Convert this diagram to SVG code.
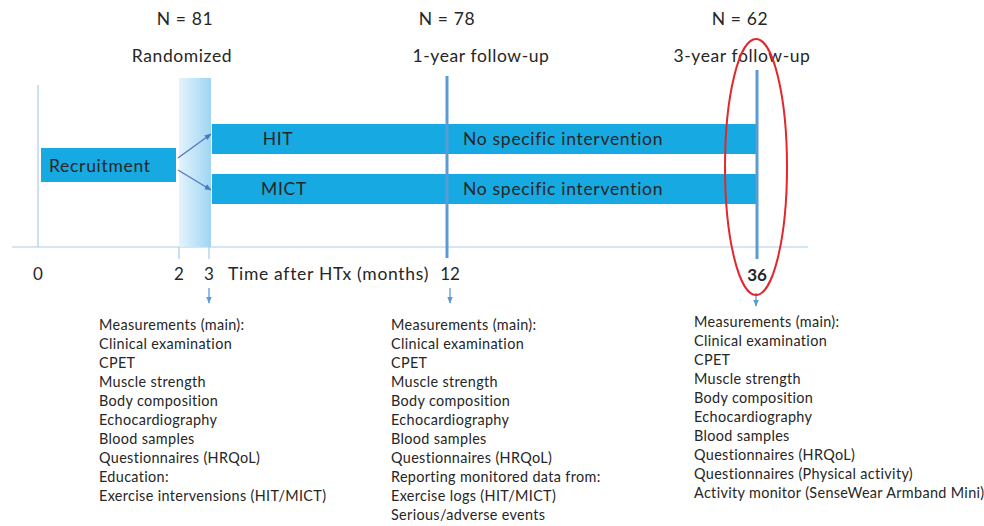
<svg xmlns="http://www.w3.org/2000/svg" width="984" height="526" viewBox="0 0 984 526">
<style>
.t{font-family:Lato,"Liberation Sans",sans-serif;fill:#262626}
.top{font-size:17.5px;letter-spacing:0.6px;text-anchor:middle}
.box{font-size:17.5px;letter-spacing:0.7px}
.tick{font-size:17px;text-anchor:middle}
.lst{font-size:14.4px;letter-spacing:0.35px}
.bar{fill:#17a9e1}
.vl{stroke:#5b9bd5;stroke-width:3}
.ax{stroke:#a9cbe8;stroke-width:1.2}
.conn{stroke:#4a78c0;stroke-width:1.2;fill:none}
.dn{stroke:#5b9bd5;stroke-width:1.3;fill:none}
</style>
<defs>
<linearGradient id="band" x1="0" y1="0" x2="1" y2="0">
<stop offset="0" stop-color="#e4f3fc"/>
<stop offset="1" stop-color="#9fd5f3"/>
</linearGradient>
<marker id="ah" viewBox="0 0 10 10" refX="9" refY="5" markerWidth="7" markerHeight="7" orient="auto" markerUnits="userSpaceOnUse">
<path d="M0,1 L10,5 L0,9 Z" fill="#4a78c0"/>
</marker>
<marker id="ad" viewBox="0 0 10 10" refX="9" refY="5" markerWidth="7" markerHeight="7" orient="auto" markerUnits="userSpaceOnUse">
<path d="M0,1 L10,5 L0,9 Z" fill="#5b9bd5"/>
</marker>
</defs>
<rect width="984" height="526" fill="#ffffff"/>

<g id="axes">
<line class="ax" x1="38" y1="85" x2="38" y2="247"/>
<line class="ax" x1="12" y1="247" x2="808" y2="247"/>
<line class="ax" x1="179" y1="247" x2="179" y2="259"/>
<line class="ax" x1="209" y1="247" x2="209" y2="259"/>
</g>

<g id="randomized-band">
<rect x="179" y="78" width="32" height="169" fill="url(#band)"/>
</g>

<g id="recruitment">
<rect class="bar" x="41" y="148" width="135" height="34"/>
<text class="t box" x="49" y="172">Recruitment</text>
</g>

<g id="hit">
<rect class="bar" x="212" y="124" width="545" height="30"/>
<text class="t box" x="278" y="145" text-anchor="middle">HIT</text>
<text class="t box" x="463" y="145">No specific intervention</text>
</g>

<g id="mict">
<rect class="bar" x="212" y="174" width="545" height="30"/>
<text class="t box" x="284" y="195" text-anchor="middle">MICT</text>
<text class="t box" x="463" y="195">No specific intervention</text>
</g>

<g id="timepoints">
<line class="vl" x1="447" y1="76" x2="447" y2="258"/>
<line class="vl" x1="757" y1="70" x2="757" y2="259"/>
</g>

<g id="connectors">
<line class="conn" x1="178" y1="158" x2="211" y2="134" marker-end="url(#ah)"/>
<line class="conn" x1="178" y1="170" x2="211" y2="190" marker-end="url(#ah)"/>
<line class="dn" x1="209" y1="288" x2="209" y2="303" marker-end="url(#ad)"/>
<line class="dn" x1="450" y1="288" x2="450" y2="303" marker-end="url(#ad)"/>
<line class="dn" x1="756" y1="293" x2="756" y2="306" marker-end="url(#ad)"/>
</g>

<g id="labels-top">
<text class="t top" x="185" y="25">N = 81</text>
<text class="t top" x="182" y="62">Randomized</text>
<text class="t top" x="447" y="25">N = 78</text>
<text class="t top" x="481" y="62">1-year follow-up</text>
<text class="t top" x="740" y="25">N = 62</text>
<text class="t top" x="742" y="62">3-year follow-up</text>
</g>

<g id="labels-axis">
<text class="t tick" x="38" y="280">0</text>
<text class="t tick" x="179" y="280">2</text>
<text class="t tick" x="209" y="280">3</text>
<text class="t box" x="228" y="280">Time after HTx (months)</text>
<text class="t tick" x="450" y="280">12</text>
<text class="t tick" x="757" y="281" font-weight="bold">36</text>
</g>

<g id="highlight">
<ellipse cx="756" cy="167" rx="31" ry="128" fill="none" stroke="#e0282e" stroke-width="2"/>
</g>

<g id="list-3m">
<text class="t lst" x="99" y="330">
<tspan x="99" y="330">Measurements (main):</tspan>
<tspan x="99" dy="19">Clinical examination</tspan>
<tspan x="99" dy="19">CPET</tspan>
<tspan x="99" dy="19">Muscle strength</tspan>
<tspan x="99" dy="19">Body composition</tspan>
<tspan x="99" dy="19">Echocardiography</tspan>
<tspan x="99" dy="19">Blood samples</tspan>
<tspan x="99" dy="19">Questionnaires (HRQoL)</tspan>
<tspan x="99" dy="19">Education:</tspan>
<tspan x="99" dy="19">Exercise intervensions (HIT/MICT)</tspan>
</text>
</g>

<g id="list-12m">
<text class="t lst" x="391" y="330">
<tspan x="391" y="330">Measurements (main):</tspan>
<tspan x="391" dy="19">Clinical examination</tspan>
<tspan x="391" dy="19">CPET</tspan>
<tspan x="391" dy="19">Muscle strength</tspan>
<tspan x="391" dy="19">Body composition</tspan>
<tspan x="391" dy="19">Echocardiography</tspan>
<tspan x="391" dy="19">Blood samples</tspan>
<tspan x="391" dy="19">Questionnaires (HRQoL)</tspan>
<tspan x="391" dy="19">Reporting monitored data from:</tspan>
<tspan x="391" dy="19">Exercise logs (HIT/MICT)</tspan>
<tspan x="391" dy="19">Serious/adverse events</tspan>
</text>
</g>

<g id="list-36m">
<text class="t lst" x="694" y="327">
<tspan x="694" y="327">Measurements (main):</tspan>
<tspan x="694" dy="19">Clinical examination</tspan>
<tspan x="694" dy="19">CPET</tspan>
<tspan x="694" dy="19">Muscle strength</tspan>
<tspan x="694" dy="19">Body composition</tspan>
<tspan x="694" dy="19">Echocardiography</tspan>
<tspan x="694" dy="19">Blood samples</tspan>
<tspan x="694" dy="19">Questionnaires (HRQoL)</tspan>
<tspan x="694" dy="19">Questionnaires (Physical activity)</tspan>
<tspan x="694" dy="19">Activity monitor (SenseWear Armband Mini)</tspan>
</text>
</g>
</svg>
